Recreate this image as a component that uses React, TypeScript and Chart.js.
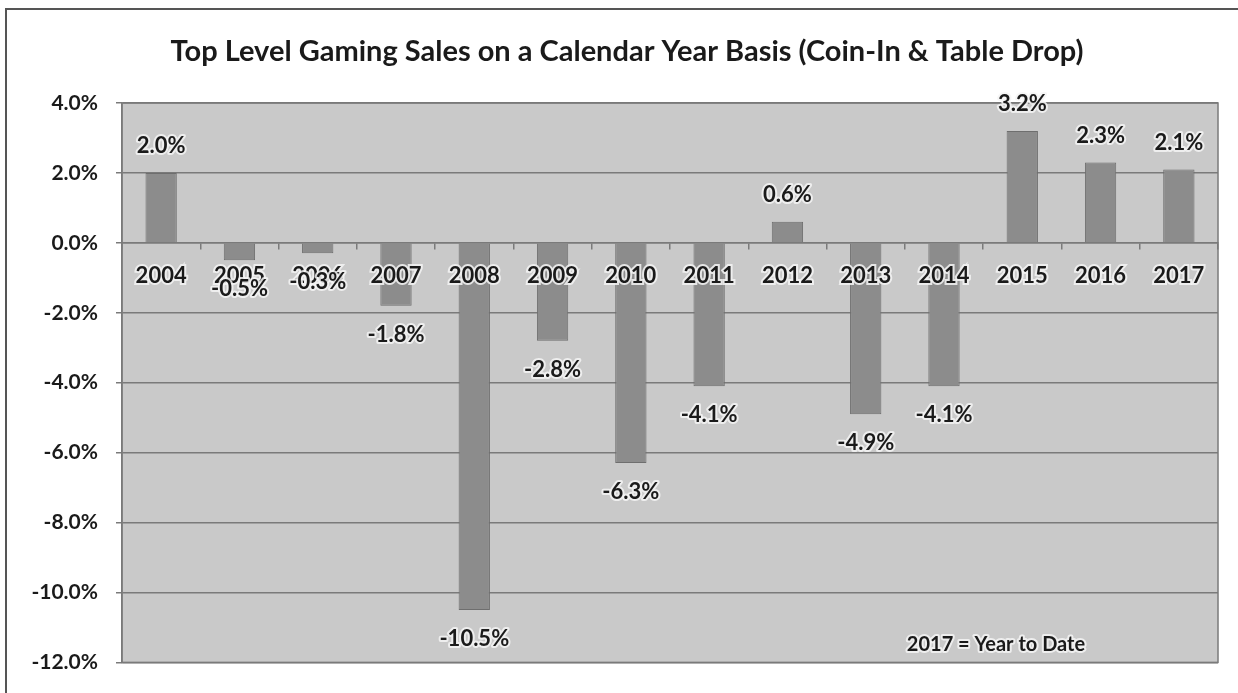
import React, { useEffect, useRef } from 'react';
import { Chart, registerables } from 'chart.js';

Chart.register(...registerables);

const years = ['2004', '2005', '2006', '2007', '2008', '2009', '2010', '2011', '2012', '2013', '2014', '2015', '2016', '2017'];
const salesChange = [2.0, -0.5, -0.3, -1.8, -10.5, -2.8, -6.3, -4.1, 0.6, -4.9, -4.1, 3.2, 2.3, 2.1];
const yTicks = [4, 2, 0, -2, -4, -6, -8, -10, -12];
const chartTitle = 'Top Level Gaming Sales on a Calendar Year Basis (Coin-In & Table Drop)';
const footNote = '2017 = Year to Date';

const FONT = 'Lato, "Open Sans", sans-serif';
const HALO = 'rgba(245,245,245,0.85)';

// plot background + frame, title, value labels and the footnote
const decorations = {
  id: 'decorations',
  beforeDraw(chart: any) {
    const { ctx, chartArea: a } = chart;
    ctx.save();
    ctx.fillStyle = '#c9c9c9';
    ctx.fillRect(a.left, a.top, a.right - a.left, a.bottom - a.top);
    ctx.restore();
  },
  afterDraw(chart: any) {
    const { ctx, chartArea: a } = chart;
    const meta = chart.getDatasetMeta(0);
    ctx.save();
    ctx.strokeStyle = '#7a7a7a';
    ctx.lineWidth = 1.5;
    ctx.strokeRect(a.left, a.top, a.right - a.left, a.bottom - a.top);

    ctx.textAlign = 'center';
    ctx.textBaseline = 'middle';
    ctx.lineJoin = 'round';

    ctx.font = `bold 29px ${FONT}`;
    ctx.fillStyle = '#1a1a1a';
    ctx.fillText(chartTitle, 627, 52);

    ctx.font = `bold 22px ${FONT}`;
    meta.data.forEach((bar: any, i: number) => {
      const v = salesChange[i];
      const y = v >= 0 ? bar.y - 27 : bar.y + 29;
      const text = v.toFixed(1) + '%';
      ctx.strokeStyle = HALO;
      ctx.lineWidth = 4;
      ctx.strokeText(text, bar.x, y);
      ctx.fillStyle = '#1a1a1a';
      ctx.fillText(text, bar.x, y);
    });

    ctx.font = `bold 20px ${FONT}`;
    ctx.strokeStyle = HALO;
    ctx.lineWidth = 4;
    ctx.strokeText(footNote, a.right - 222, a.bottom - 18);
    ctx.fillText(footNote, a.right - 222, a.bottom - 18);
    ctx.restore();
  },
};

export default function App() {
  const canvasRef = useRef<HTMLCanvasElement>(null);

  useEffect(() => {
    if (!canvasRef.current) return;
    const chart = new Chart(canvasRef.current, {
      type: 'bar',
      data: {
        labels: years,
        datasets: [{
          data: salesChange,
          backgroundColor: '#8c8c8c',
          borderColor: '#6e6e6e',
          borderWidth: 1,
          barPercentage: 0.4,
          categoryPercentage: 1,
        }],
      },
      options: {
        animation: false,
        responsive: true,
        maintainAspectRatio: false,
        layout: { padding: { left: 0, right: 20, top: 103, bottom: 28 } },
        plugins: {
          legend: { display: false },
          tooltip: { enabled: false },
          title: { display: false },
        },
        scales: {
          x: {
            position: { y: 0 } as any,
            offset: true,
            grid: {
              offset: true,
              drawOnChartArea: false,
              drawTicks: true,
              tickLength: 6,
              color: '#7a7a7a',
              lineWidth: 1.5,
            },
            border: { display: true, color: '#7a7a7a', width: 1.5, z: 1 },
            ticks: {
              z: 1,
              color: '#1a1a1a',
              font: { family: FONT, size: 22, weight: 'bold' },
              padding: 14,
              maxRotation: 0,
              autoSkip: false,
              textStrokeColor: HALO,
              textStrokeWidth: 4,
            },
          },
          y: {
            min: yTicks[yTicks.length - 1],
            max: yTicks[0],
            afterFit: (s: any) => { s.width = 122; },
            afterBuildTicks: (s: any) => { s.ticks = yTicks.map(v => ({ value: v })); },
            grid: {
              color: '#7a7a7a',
              lineWidth: 1.5,
              tickLength: 6,
            },
            border: { display: true, color: '#7a7a7a', width: 1.5 },
            ticks: {
              color: '#1a1a1a',
              font: { family: FONT, size: 21, weight: 'bold' },
              padding: 18,
              callback: (v: any) => Number(v).toFixed(1) + '%',
            },
          },
        },
      },
      plugins: [decorations],
    });
    return () => chart.destroy();
  }, []);

  return (
    <div style={{ position: 'fixed', left: 0, top: 0, width: 1238, height: 693, background: '#ffffff' }}>
      <div style={{ position: 'absolute', left: 5, top: 8, right: 0, bottom: 0, borderLeft: '2px solid #555', borderTop: '2px solid #555' }} />
      <div style={{ position: 'absolute', left: 0, top: 0, width: 1238, height: 693 }}>
        <canvas ref={canvasRef} />
      </div>
    </div>
  );
}
